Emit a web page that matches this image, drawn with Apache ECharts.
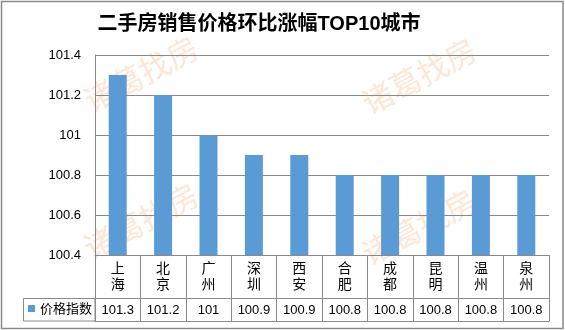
<!DOCTYPE html>
<html>
<head>
<meta charset="utf-8">
<script src="https://cdn.jsdelivr.net/npm/echarts@6/dist/echarts.min.js"></script>
<style>
  html, body { margin: 0; padding: 0; background: #fff; }
  #chart { width: 565px; height: 330px; }
</style>
</head>
<body>
<div id="chart"></div>
<script>
// City categories and month-on-month price index values
const cities = ['上海', '北京', '广州', '深圳', '西安', '合肥', '成都', '昆明', '温州', '泉州'];
const priceIndex = [101.3, 101.2, 101, 100.9, 100.9, 100.8, 100.8, 100.8, 100.8, 100.8];
const seriesName = '价格指数';
const titleText = '二手房销售价格环比涨幅TOP10城市';
const watermarkText = '诸葛找房';

const gridColor = '#8a8a8a';
const latinFont = '"Liberation Sans", Arial, "Noto Sans CJK SC", sans-serif';
const cjkFont = '"Noto Sans CJK SC", "Liberation Sans", sans-serif';

const chart = echarts.init(document.getElementById('chart'), null, { renderer: 'canvas' });

// Faint diagonal brand text laid under the plot
const watermarkSpots = [[141, 74], [141, 221], [419, 76], [419, 227]];
const watermarks = watermarkSpots.map(function (p) {
  return {
    type: 'text',
    x: p[0], y: p[1],
    rotation: Math.PI / 6.5,
    z: -10,
    silent: true,
    style: {
      text: watermarkText,
      fontSize: 31,
      fontFamily: cjkFont,
      fill: '#fde6d4',
      align: 'center',
      verticalAlign: 'middle'
    }
  };
});

const option = {
  backgroundColor: '#fff',
  animation: false,
  title: {
    text: titleText,
    left: 259,
    top: 14,
    textAlign: 'center',
    padding: 0,
    textStyle: {
      fontSize: 20,
      fontWeight: 'bold',
      color: '#000',
      fontFamily: latinFont
    }
  },
  legend: {
    data: [seriesName],
    left: 28,
    top: 302,
    padding: 0,
    itemWidth: 7,
    itemHeight: 7,
    icon: 'rect',
    selectedMode: false,
    textStyle: { fontSize: 13, color: '#000', fontFamily: cjkFont }
  },
  grid: { left: 95, right: 16, top: 55, bottom: 75 },
  xAxis: [
    {
      // city names, stacked vertically, with cell dividers running through the table
      type: 'category',
      data: cities,
      position: 'bottom',
      axisLine: { show: true, lineStyle: { color: gridColor, width: 1 } },
      axisTick: { show: true, interval: 0, length: 66, lineStyle: { color: gridColor, width: 1 } },
      axisLabel: {
        interval: 0,
        margin: 5,
        fontSize: 14,
        lineHeight: 16,
        color: '#000',
        fontFamily: cjkFont,
        formatter: function (v) { return v.split('').join('\n'); }
      }
    },
    {
      // value row of the data table
      type: 'category',
      data: priceIndex.map(String),
      position: 'bottom',
      offset: 43,
      axisLine: { show: true, lineStyle: { color: gridColor, width: 1 } },
      axisTick: { show: false },
      axisLabel: {
        interval: 0,
        margin: 6,
        fontSize: 13,
        color: '#000',
        fontFamily: latinFont
      }
    },
    {
      // bottom rule of the data table
      type: 'category',
      data: cities,
      position: 'bottom',
      offset: 66,
      axisLine: { show: true, lineStyle: { color: gridColor, width: 1 } },
      axisTick: { show: false },
      axisLabel: { show: false }
    }
  ],
  yAxis: {
    type: 'value',
    min: 100.4,
    max: 101.4,
    interval: 0.2,
    axisLine: { show: true, lineStyle: { color: gridColor, width: 1 } },
    axisTick: { show: false },
    splitLine: { show: true, lineStyle: { color: gridColor, width: 1 } },
    axisLabel: {
      margin: 14,
      fontSize: 13,
      color: '#000',
      fontFamily: latinFont
    }
  },
  series: [
    {
      name: seriesName,
      type: 'bar',
      xAxisIndex: 0,
      data: priceIndex,
      barWidth: 18,
      itemStyle: { color: '#5b9bd5' }
    }
  ],
  graphic: watermarks.concat([
    {
      // legend key cell at the left of the value row
      type: 'rect',
      shape: { x: 23.5, y: 298.5, width: 71.5, height: 22.5 },
      style: { fill: 'none', stroke: gridColor, lineWidth: 1 },
      z: 1,
      silent: true
    },
    {
      // outer chart frame
      type: 'rect',
      shape: { x: 1.5, y: 1.5, width: 561.5, height: 327 },
      style: { fill: 'none', stroke: gridColor, lineWidth: 1.5 },
      z: 1,
      silent: true
    }
  ])
};

chart.setOption(option);
</script>
</body>
</html>
